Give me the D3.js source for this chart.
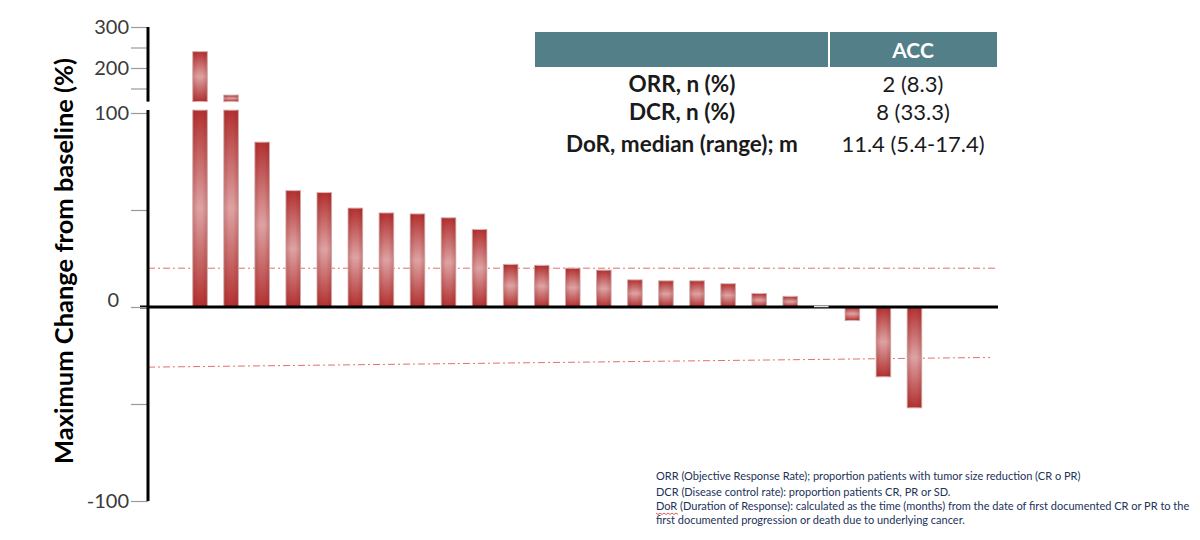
<!DOCTYPE html>
<html>
<head>
<meta charset="utf-8">
<script src="https://cdn.jsdelivr.net/npm/d3@7"></script>
<style>
  body { margin: 0; background: #fff; }
  svg { display: block; font-family: Lato, "Open Sans", sans-serif; }
</style>
</head>
<body>
<svg width="1200" height="540"></svg>
<script>
// waterfall values, one per patient (% change from baseline)
var patients = d3.range(1, 25);
var changes = [240, 134, 85, 60, 59, 51, 48.5, 48, 46, 40, 22, 21.5, 20, 19, 14, 13.5, 13.5, 12, 7, 5.5, 0, -7, -36, -52];

// reference thresholds (PD +20%, PR -30%), start / end value
var refStart = [20, -31];
var refEnd = [20, -26];

// y ticks
var lowTicks = [-100, -50, 0, 50, 100];
var lowLabels = [-100, 0, 100];
var highTicks = [150, 200, 250, 300];
var highLabels = [200, 300];

// summary table
var tableHeader = ["", "ACC"];
var tableLabels = ["ORR, n (%)", "DCR, n (%)", "DoR, median (range); m"];
var tableValues = ["2 (8.3)", "8 (33.3)", "11.4 (5.4-17.4)"];

var notes = [
  "ORR (Objective Response Rate);  proportion patients with tumor size reduction (CR o PR)",
  "DCR (Disease control rate): proportion patients CR, PR or SD.",
  "DoR (Duration of Response): calculated as the time (months) from the date of first documented CR or PR to the",
  "first documented progression or death due to underlying cancer."
];

var svg = d3.select("svg");

var axisX = 148, plotRight = 998;
var breakLow = 101.5, breakHigh = 118;

var x = d3.scaleBand()
    .domain(patients)
    .range([184.5, 930])
    .paddingInner(0.53)
    .paddingOuter(0.265);

var yLow = d3.scaleLinear().domain([-100, 100]).range([501, 113]);
var yHigh = d3.scaleLinear().domain([200, 300]).range([68, 27]);

// gradients
var defs = svg.append("defs");
var g1 = defs.append("linearGradient").attr("id", "barGrad")
    .attr("x1", 0).attr("y1", 0).attr("x2", 0).attr("y2", 1);
g1.append("stop").attr("offset", 0).attr("stop-color", "#b2302f");
g1.append("stop").attr("offset", 0.5).attr("stop-color", "#dea2a3");
g1.append("stop").attr("offset", 1).attr("stop-color", "#b2302f");
var g2 = defs.append("linearGradient").attr("id", "barEdge")
    .attr("x1", 0).attr("y1", 0).attr("x2", 1).attr("y2", 0);
g2.append("stop").attr("offset", 0).attr("stop-color", "#8a1a1a").attr("stop-opacity", 0.25);
g2.append("stop").attr("offset", 0.35).attr("stop-color", "#8a1a1a").attr("stop-opacity", 0);
g2.append("stop").attr("offset", 0.65).attr("stop-color", "#8a1a1a").attr("stop-opacity", 0);
g2.append("stop").attr("offset", 1).attr("stop-color", "#8a1a1a").attr("stop-opacity", 0.25);

// reference lines
svg.append("g").selectAll("line")
  .data(refStart)
  .enter().append("line")
    .attr("x1", axisX)
    .attr("x2", (d, i) => i == 0 ? plotRight : plotRight - 8)
    .attr("y1", d => yLow(d))
    .attr("y2", (d, i) => yLow(refEnd[i]))
    .style("stroke", "#e27070")
    .style("stroke-width", 1)
    .style("stroke-dasharray", "7,3,2,3");

// bar segments (split at the axis break)
var segs = [];
changes.forEach(function(v, i) {
  var id = patients[i];
  if (v > breakLow) {
    segs.push({id: id, y1: yLow(breakLow), y2: yLow(0)});
    segs.push({id: id, y1: yHigh(v), y2: yHigh(breakHigh)});
  } else if (v != 0) {
    segs.push({id: id, y1: yLow(Math.max(v, 0)), y2: yLow(Math.min(v, 0))});
  }
});

var bars = svg.append("g").selectAll("g")
  .data(segs)
  .enter().append("g");
bars.append("rect")
    .attr("x", d => x(d.id))
    .attr("y", d => d.y1)
    .attr("width", x.bandwidth())
    .attr("height", d => d.y2 - d.y1)
    .attr("fill", "url(#barGrad)")
    .style("stroke", "#dcbcbc")
    .style("stroke-width", 1);
bars.append("rect")
    .attr("x", d => x(d.id))
    .attr("y", d => d.y1)
    .attr("width", x.bandwidth())
    .attr("height", d => d.y2 - d.y1)
    .attr("fill", "url(#barEdge)");

// zero line
svg.append("line")
    .attr("x1", 140).attr("x2", plotRight)
    .attr("y1", yLow(0)).attr("y2", yLow(0))
    .style("stroke", "#000").style("stroke-width", 3);

// zero-valued patient
svg.append("g").selectAll("line")
  .data(patients.filter((p, i) => changes[i] == 0))
  .enter().append("line")
    .attr("x1", d => x(d)).attr("x2", d => x(d) + x.bandwidth())
    .attr("y1", yLow(0) - 0.5).attr("y2", yLow(0) - 0.5)
    .style("stroke", "#e4e4e4").style("stroke-width", 1.5);

// y axes
function styleAxis(g) {
  g.select(".domain").remove();
  g.selectAll(".tick line").style("stroke", "#9a9a9a").style("stroke-width", 1.2);
  g.selectAll(".tick text")
    .style("font-size", "20px")
    .style("fill", "#3a3a3a")
    .style("font-family", "Lato, sans-serif");
  g.selectAll(".tick text").filter(d => d == 0).attr("dx", -10).attr("dy", "-0.05em");
}

var lowAxis = svg.append("g")
    .attr("transform", "translate(" + axisX + ",0)")
    .call(d3.axisLeft(yLow).tickValues(lowTicks).tickSize(17).tickPadding(2)
      .tickFormat(d => lowLabels.indexOf(d) >= 0 ? d : ""));
styleAxis(lowAxis);

var highAxis = svg.append("g")
    .attr("transform", "translate(" + axisX + ",0)")
    .call(d3.axisLeft(yHigh).tickValues(highTicks).tickSize(17).tickPadding(2)
      .tickFormat(d => highLabels.indexOf(d) >= 0 ? d : ""));
styleAxis(highAxis);

// broken axis lines
svg.append("line")
    .attr("x1", axisX).attr("x2", axisX)
    .attr("y1", yLow(-100)).attr("y2", yLow(breakLow))
    .style("stroke", "#000").style("stroke-width", 3);
svg.append("line")
    .attr("x1", axisX).attr("x2", axisX)
    .attr("y1", yHigh(breakHigh)).attr("y2", yHigh(300))
    .style("stroke", "#000").style("stroke-width", 3);

// y title
svg.append("text")
    .attr("transform", "translate(73,261) rotate(-90)")
    .attr("text-anchor", "middle")
    .style("font-size", "25.5px")
    .style("font-weight", "bold")
    .style("fill", "#000")
    .text("Maximum Change from baseline (%)");

// table
var tbl = svg.append("g");
var colX = [535, 829, 997];
tbl.append("rect")
    .attr("x", colX[0]).attr("y", 32)
    .attr("width", colX[2] - colX[0]).attr("height", 35)
    .attr("fill", "#537f89");
tbl.append("line")
    .attr("x1", colX[1]).attr("x2", colX[1])
    .attr("y1", 32).attr("y2", 67)
    .style("stroke", "#fff").style("stroke-width", 2);
tbl.append("text")
    .attr("x", (colX[1] + colX[2]) / 2).attr("y", 58)
    .attr("text-anchor", "middle")
    .style("font-size", "21px").style("font-weight", "bold").style("fill", "#fff")
    .text(tableHeader[1]);

var rowY = [92, 120, 152];
tbl.selectAll(".lab")
  .data(tableLabels)
  .enter().append("text")
    .attr("class", "lab")
    .attr("x", (colX[0] + colX[1]) / 2)
    .attr("y", (d, i) => rowY[i])
    .attr("text-anchor", "middle")
    .style("font-size", "22.5px").style("font-weight", "bold").style("fill", "#1a1a1a")
    .text(d => d);
tbl.selectAll(".val")
  .data(tableValues)
  .enter().append("text")
    .attr("class", "val")
    .attr("x", (colX[1] + colX[2]) / 2)
    .attr("y", (d, i) => rowY[i])
    .attr("text-anchor", "middle")
    .style("font-size", "22px").style("fill", "#1a1a1a")
    .text(d => d);

// footnotes
var noteY = [480, 496, 510, 524];
var nt = svg.append("g");
nt.selectAll("text")
  .data(notes)
  .enter().append("text")
    .attr("x", 656)
    .attr("y", (d, i) => noteY[i])
    .style("font-size", "11px")
    .style("fill", "#22325a")
    .text(d => d);

// spell-check squiggle under "DoR"
var probe = nt.append("text").style("font-size", "11px").text("DoR");
var w = probe.node().getComputedTextLength();
probe.remove();
var sq = d3.range(0, Math.ceil(w / 2) + 1).map(k => [656 + k * 2, noteY[2] + 3 + (k % 2 ? 1.5 : 0)]);
nt.append("path")
    .attr("d", d3.line()(sq))
    .style("fill", "none").style("stroke", "#e03030").style("stroke-width", 0.8);
</script>
</body>
</html>
